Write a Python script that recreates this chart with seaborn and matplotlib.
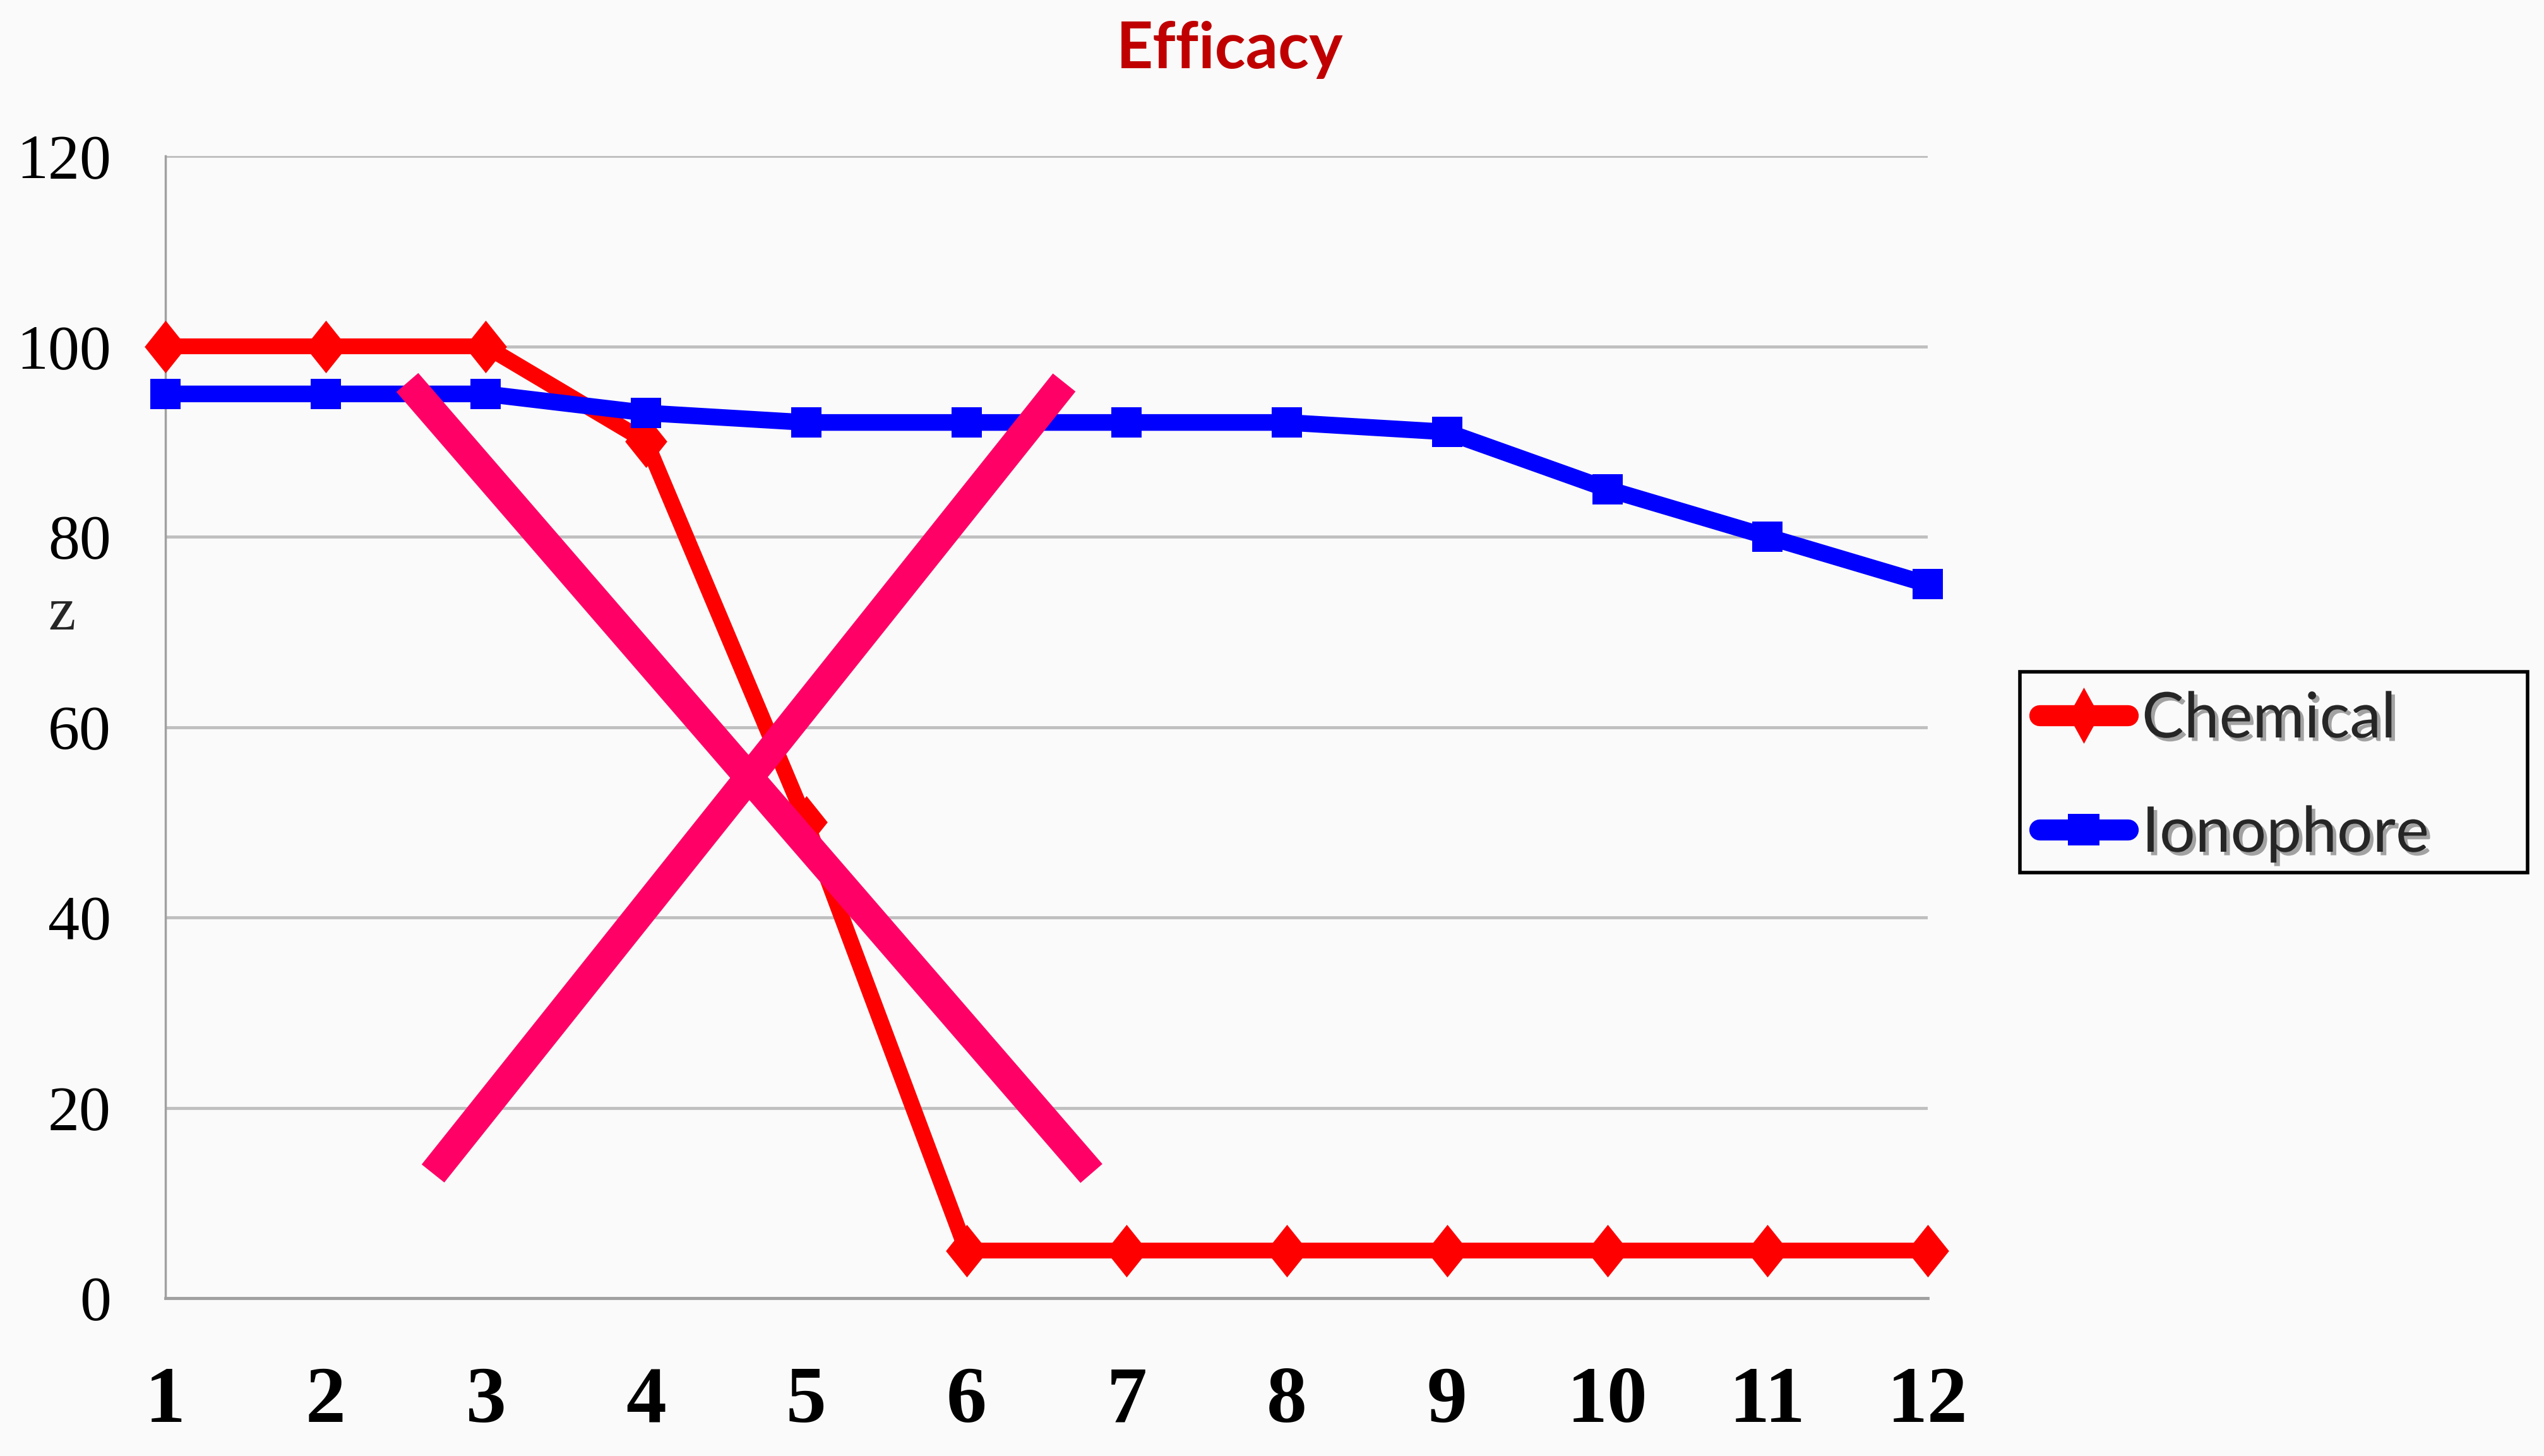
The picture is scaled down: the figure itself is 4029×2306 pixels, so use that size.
import numpy as np
import pandas as pd
import matplotlib
matplotlib.use("Agg")
import matplotlib.pyplot as plt
import seaborn as sns
from matplotlib.patches import Rectangle
from matplotlib.lines import Line2D
import matplotlib.patheffects as pe

# ---- data ----
days = list(range(1, 13))
chemical = [100, 100, 100, 90, 50, 5, 5, 5, 5, 5, 5, 5]
ionophore = [95, 95, 95, 93, 92, 92, 92, 92, 91, 85, 80, 75]
cross_a_x = [2.51, 6.78]
cross_a_y = [96.2, 13.1]
cross_b_x = [2.67, 6.61]
cross_b_y = [13.1, 96.2]
y_ticks = [0, 20, 40, 60, 80, 100, 120]
series_names = ["Chemical", "Ionophore"]
title_text = "Efficacy"
ylabel_text = "z"

sns.set_theme(style="white")
plt.rcParams["font.family"] = ["DejaVu Sans"]

W, H = 4029, 2306
bg = "#FAFAFA"
fig = plt.figure(figsize=(W / 100, H / 100), dpi=100, facecolor=bg)
ax = fig.add_axes([262 / W, 1 - 2056 / H, (3053 - 262) / W, (2056 - 247) / H])
ax.set_facecolor(bg)

red = "#FF0000"
blue = "#0000FF"
pink = "#FF0066"
diamond = [(-0.8, 0), (0, 1), (0.8, 0), (0, -1), (-0.8, 0)]
tall_diamond = [(-0.55, 0), (0, 1), (0.55, 0), (0, -1), (-0.55, 0)]

df = pd.DataFrame({"day": days, "chem": chemical, "iono": ionophore})

sns.lineplot(data=df, x="day", y="chem", ax=ax, color=red, linewidth=18,
             marker=diamond, markersize=60, markeredgewidth=0,
             markeredgecolor=red, markerfacecolor=red, clip_on=False,
             zorder=3, legend=False)
sns.lineplot(data=df, x="day", y="iono", ax=ax, color=blue, linewidth=19,
             marker="s", markersize=34, markeredgewidth=0,
             markeredgecolor=blue, markerfacecolor=blue, clip_on=False,
             zorder=4, legend=False)
sns.lineplot(x=cross_a_x, y=cross_a_y, ax=ax, color=pink, linewidth=33,
             sort=False, zorder=5, legend=False, solid_capstyle="butt")
sns.lineplot(x=cross_b_x, y=cross_b_y, ax=ax, color=pink, linewidth=33,
             sort=False, zorder=5, legend=False, solid_capstyle="butt")

ax.set_xlim(1, 12)
ax.set_ylim(0, 120)
ax.set_xticks(days)
ax.set_xticklabels([str(d) for d in days], fontfamily="Liberation Serif",
                   fontweight="bold", fontsize=92)
ax.set_yticks(y_ticks)
ax.set_yticklabels([str(v) for v in y_ticks], fontfamily="Liberation Serif",
                   fontsize=72)
ax.tick_params(axis="x", length=0, pad=78, colors="black")
ax.tick_params(axis="y", length=0, pad=62, colors="black")
ax.set_xlabel("")
ax.set_ylabel("")
ax.yaxis.grid(True, color="#BFBFBF", linewidth=3.5)
ax.xaxis.grid(False)
ax.set_axisbelow(True)
for s in ["top", "right"]:
    ax.spines[s].set_visible(False)
ax.spines["left"].set_color("#A0A0A0")
ax.spines["left"].set_linewidth(2.5)
ax.spines["bottom"].set_color("#A0A0A0")
ax.spines["bottom"].set_linewidth(3.5)

fig.text(1948 / W, 1 - 108 / H, title_text, fontfamily="Lato", fontweight="bold",
         fontsize=73, color="#C00000", ha="center", va="baseline")
fig.text(98 / W, 1 - 997 / H, ylabel_text, fontfamily="Liberation Serif",
         fontsize=70, ha="center", va="baseline")

# legend box
box = Rectangle((3199 / W, 1 - 1382 / H), (4003 - 3199) / W, (1382 - 1064) / H,
                transform=fig.transFigure, facecolor=bg, edgecolor="black",
                linewidth=4, zorder=1)
fig.add_artist(box)
handles = [
    Line2D([], [], color=red, linewidth=24, marker=tall_diamond, markersize=64,
           markeredgewidth=0, markerfacecolor=red),
    Line2D([], [], color=blue, linewidth=24, marker="s", markersize=36,
           markeredgewidth=0, markerfacecolor=blue),
]
leg = fig.legend(handles, series_names, loc="center left",
                 bbox_to_anchor=(3230 / W, 1 - 1230 / H), frameon=False,
                 borderpad=0, borderaxespad=0, handlelength=1.4,
                 handletextpad=0.22, labelspacing=0.9,
                 prop={"family": "Lato", "size": 72})
leg.set_zorder(5)
for t in leg.get_texts():
    t.set_path_effects([pe.withSimplePatchShadow(offset=(4, -4),
                                                 shadow_rgbFace="black",
                                                 alpha=0.35)])

fig.savefig("out.png", dpi=100, facecolor=bg)
